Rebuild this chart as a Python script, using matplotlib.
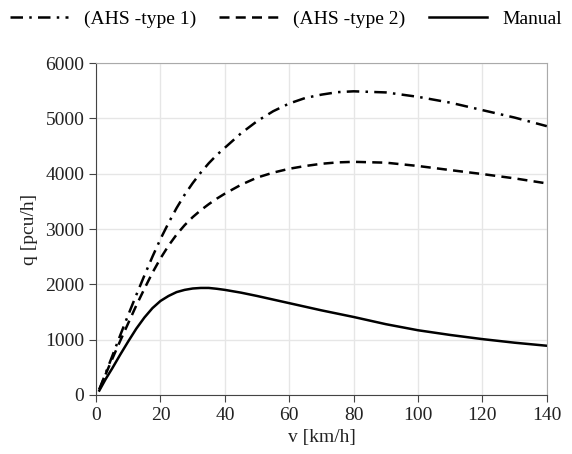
import matplotlib.pyplot as plt

plt.rcParams['font.family'] = ['Liberation Serif', 'DejaVu Serif']

# speed [km/h]
v = [1, 3, 5, 7.5, 10, 12.5, 15, 17.5, 20, 22.5, 25, 27.5, 30, 32.5, 35, 37.5, 40, 45, 50,
     55, 60, 65, 70, 75, 80, 90, 100, 110, 120, 130, 140]

# flow [pcu/h]
ahs1 = [100, 400, 700, 1080, 1450, 1810, 2160, 2500, 2820, 3110, 3380, 3620, 3830, 4020,
        4190, 4340, 4470, 4730, 4950, 5130, 5270, 5370, 5430, 5475, 5490, 5470, 5390, 5285,
        5150, 5015, 4860]
ahs2 = [100, 380, 650, 980, 1300, 1620, 1920, 2210, 2470, 2700, 2900, 3070, 3215, 3340,
        3450, 3550, 3640, 3800, 3930, 4020, 4090, 4140, 4180, 4205, 4215, 4200, 4140, 4066,
        3994, 3916, 3825]
manual = [80, 290, 480, 730, 970, 1200, 1400, 1570, 1700, 1790, 1860, 1900, 1925, 1935,
          1935, 1920, 1900, 1850, 1790, 1725, 1660, 1595, 1530, 1470, 1410, 1280, 1170, 1085,
          1010, 945, 890]

fig = plt.figure(figsize=(5.72, 4.54), dpi=100)
ax = fig.add_axes([0.168, 0.130, 0.788, 0.731])

ax.plot(v, ahs1, color='black', lw=1.8, linestyle=(0, (5, 2.5, 1, 2.5)), label='(AHS -type 1)')
ax.plot(v, ahs2, color='black', lw=1.8, linestyle=(0, (4, 2.5)), label='(AHS -type 2)')
ax.plot(v, manual, color='black', lw=1.8, label='Manual')

ax.set_xlim(0, 140)
ax.set_ylim(0, 6000)
ax.set_xticks(range(0, 141, 20))
ax.set_yticks(range(0, 6001, 1000))
ax.grid(True, color='#e6e6e6', lw=1)
ax.set_axisbelow(True)

for s in ['left', 'bottom']:
    ax.spines[s].set_color('#444444')
for s in ['top', 'right']:
    ax.spines[s].set_color('#aaaaaa')
ax.tick_params(direction='out', length=5, color='#444444', labelsize=14, labelcolor='#222222')

ax.set_xlabel('v [km/h]', fontsize=14, color='#222222', labelpad=4)
ax.set_ylabel('q [pcu/h]', fontsize=14, color='#222222', labelpad=5)

fig.legend(loc='upper center', bbox_to_anchor=(0.5, 1.015), ncol=3, frameon=False,
           fontsize=14, handlelength=3.0, columnspacing=1.2, handletextpad=0.8)

fig.savefig('out.png', dpi=100)
